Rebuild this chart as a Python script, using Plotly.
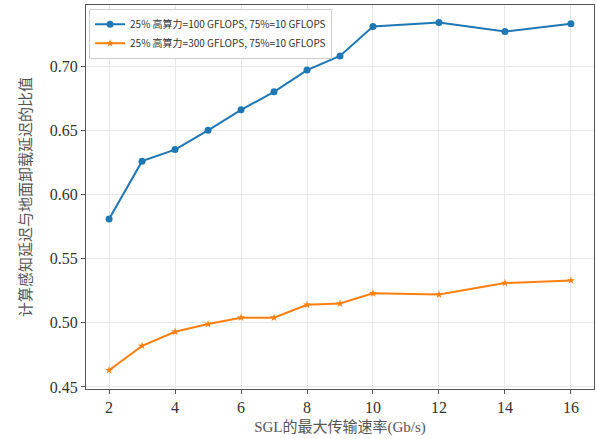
import plotly.graph_objects as go

x_rate = [2, 3, 4, 5, 6, 7, 8, 9, 10, 12, 14, 16]
ratio_100 = [0.581, 0.626, 0.635, 0.650, 0.666, 0.680, 0.697, 0.708, 0.731, 0.734, 0.727, 0.733]
ratio_300 = [0.463, 0.482, 0.493, 0.499, 0.504, 0.504, 0.514, 0.515, 0.523, 0.522, 0.531, 0.533]
name_100 = "25% 高算力=100 GFLOPS, 75%=10 GFLOPS"
name_300 = "25% 高算力=300 GFLOPS, 75%=10 GFLOPS"
x_ticks = [2, 4, 6, 8, 10, 12, 14, 16]
y_ticks = [0.45, 0.50, 0.55, 0.60, 0.65, 0.70]

fig = go.Figure()
fig.add_trace(go.Scatter(x=x_rate, y=ratio_100, name=name_100, mode="lines+markers",
                         line=dict(color="#1f77b4", width=2),
                         marker=dict(symbol="circle", size=7, color="#1f77b4")))
fig.add_trace(go.Scatter(x=x_rate, y=ratio_300, name=name_300, mode="lines+markers",
                         line=dict(color="#ff7f0e", width=2),
                         marker=dict(symbol="star", size=6, color="#ff7f0e")))

axis_common = dict(showline=True, linecolor="#555", linewidth=1, mirror=True,
                   ticks="outside", ticklen=4, tickcolor="#555",
                   showgrid=True, gridcolor="#e8e8e8", gridwidth=1, zeroline=False,
                   tickfont=dict(family="Liberation Serif", size=16, color="#333"))

title_font = dict(family="Liberation Serif, Noto Sans CJK SC", size=15, color="#555")

fig.update_layout(
    width=597, height=439,
    margin=dict(l=86, r=3, t=5, b=50),
    plot_bgcolor="white", paper_bgcolor="white",
    xaxis=dict(range=[1.3, 16.7], tickvals=x_ticks,
               title=dict(text="SGL的最大传输速率(Gb/s)", standoff=6, font=title_font),
               **axis_common),
    yaxis=dict(range=[0.4484, 0.7477], tickvals=y_ticks, tickformat=".2f",
               title=dict(text="计算感知延迟与地面卸载延迟的比值", standoff=14, font=title_font),
               **axis_common),
    legend=dict(x=0.006, y=0.99, xanchor="left", yanchor="top",
                bgcolor="rgba(255,255,255,0.9)", bordercolor="#ccc", borderwidth=1,
                font=dict(family="Noto Sans CJK SC", size=10, color="#333"),
                tracegroupgap=0, itemwidth=30),
    showlegend=True,
)

fig.write_html("out.html")
